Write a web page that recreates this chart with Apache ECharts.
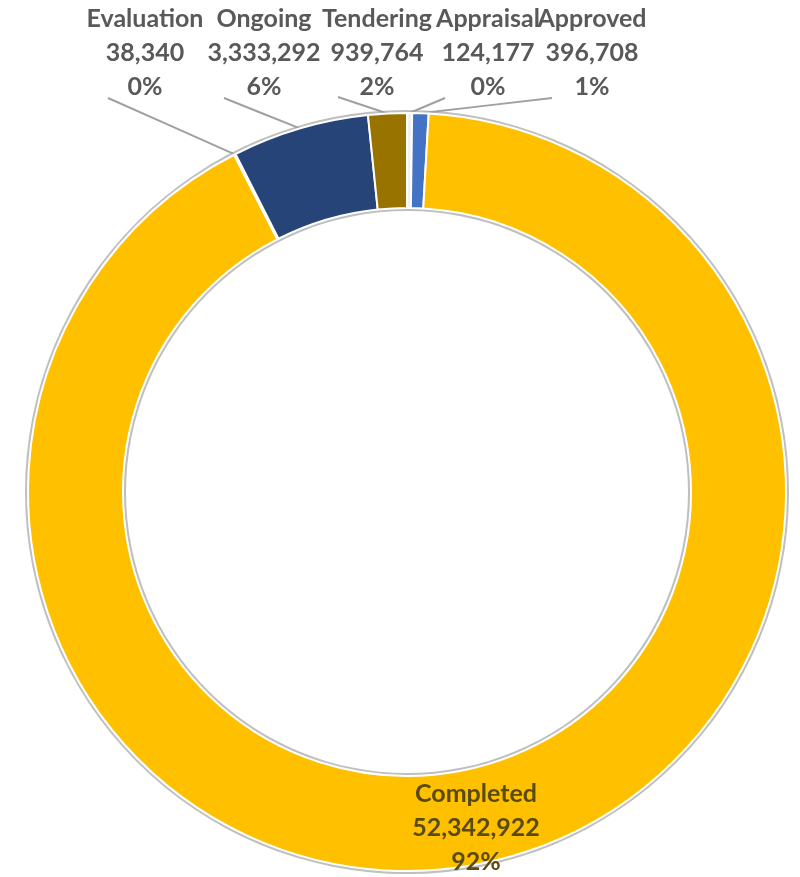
<!DOCTYPE html>
<html>
<head>
<meta charset="utf-8">
<script src="https://cdn.jsdelivr.net/npm/echarts@6/dist/echarts.min.js"></script>
<style>
html,body{margin:0;padding:0;background:#fff;}
#chart{width:800px;height:877px;}
</style>
</head>
<body>
<div id="chart"></div>
<script>
// Data (order as in the source: clockwise from 12 o'clock)
const categories = ['Appraisal', 'Approved', 'Completed', 'Evaluation', 'Ongoing', 'Tendering'];
const values = [124177, 396708, 52342922, 38340, 3333292, 939764];
const sliceColors = ['#F2F2F2', '#4472C4', '#FFC000', '#A5A5A5', '#264478', '#997300'];

const total = values.reduce((a, b) => a + b, 0);

// label placement (layout only)
const labelAnchor = {
  Appraisal: { x: 488, y: 2, end: [445, 98] },
  Approved: { x: 592, y: 2, end: [552, 98] },
  Completed: { x: 476, y: 777, end: null },
  Evaluation: { x: 145, y: 2, end: [108, 98] },
  Ongoing: { x: 264, y: 2, end: [224, 98] },
  Tendering: { x: 377, y: 2, end: [338, 97] }
};

const chart = echarts.init(document.getElementById('chart'));

const data = categories.map((name, i) => {
  const item = { name: name, value: values[i], itemStyle: { color: sliceColors[i] } };
  if (name === 'Completed') {
    item.label = { color: '#5A4A0C' };
    item.labelLine = { show: false };
  }
  return item;
});

const option = {
  backgroundColor: '#ffffff',
  animation: false,
  series: [
    {
      type: 'pie',
      silent: true,
      center: [407, 492],
      radius: [281, 382],
      startAngle: 90,
      label: { show: false },
      labelLine: { show: false },
      itemStyle: { color: '#BFBFBF' },
      data: [{ value: 1, name: 'ring' }],
      z: 1
    },
    {
      type: 'pie',
      center: [407, 492],
      radius: [284, 379],
      startAngle: 90,
      clockwise: true,
      avoidLabelOverlap: false,
      itemStyle: { borderColor: '#ffffff', borderWidth: 2 },
      label: {
        show: true,
        position: 'outside',
        fontFamily: 'Lato',
        fontWeight: 'bold',
        fontSize: 25,
        lineHeight: 34,
        color: '#595959',
        align: 'center',
        formatter: function (p) {
          return p.name + '\n' + p.value.toLocaleString('en-US') + '\n' + Math.round(p.value / total * 100) + '%';
        }
      },
      labelLine: {
        show: true,
        length: 10,
        length2: 10,
        lineStyle: { color: '#A0A0A0', width: 2 }
      },
      labelLayout: function (params) {
        const name = categories[params.dataIndex];
        const a = labelAnchor[name];
        const res = { x: a.x, y: a.y, align: 'center', verticalAlign: 'top' };
        if (a.end && params.labelLinePoints) {
          const s = params.labelLinePoints[0];
          res.labelLinePoints = [s, [(s[0] + a.end[0]) / 2, (s[1] + a.end[1]) / 2], a.end];
        }
        return res;
      },
      data: data,
      z: 2
    }
  ]
};

chart.setOption(option);
</script>
</body>
</html>
